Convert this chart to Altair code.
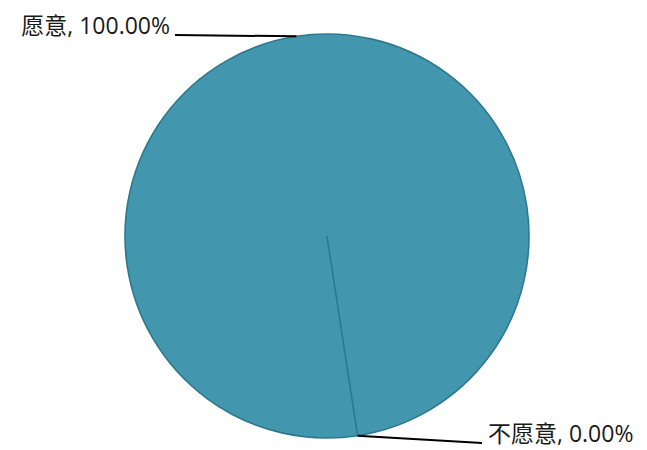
import math
import altair as alt
import pandas as pd

# Data
categories = ["愿意", "不愿意"]
values = [100, 0]

# Layout (chart coordinates)
W, H = 631, 442
CX, CY, R = 319, 228, 202
START = math.radians(171.3)          # first slice start angle (clockwise from top)
label_pos = [(162, 19), (480, 427)]   # label anchor for each category
label_align = ["right", "left"]
leader_end = [(167, 27), (474, 435)]  # where leader line meets label

total = sum(values)
pie = pd.DataFrame({
    "category": categories,
    "value": values,
    "order": list(range(len(values))),
})

# Leader lines and labels derived from slice mid-angles
rows_line, rows_text = [], []
acc = 0
for i, (c, v) in enumerate(zip(categories, values)):
    mid = START + 2 * math.pi * (acc + v / 2) / total
    acc += v
    px = CX + R * math.sin(mid)
    py = CY - R * math.cos(mid)
    ex, ey = leader_end[i]
    rows_line.append({"x": px, "y": py, "x2": ex, "y2": ey})
    lx, ly = label_pos[i]
    rows_text.append({"x": lx, "y": ly, "text": f"{c}, {v / total * 100:.2f}%", "align": label_align[i]})

lines = pd.DataFrame(rows_line)
texts = pd.DataFrame(rows_text)

xs = alt.Scale(domain=[0, W], range=[0, W], nice=False, zero=False)
ys = alt.Scale(domain=[0, H], range=[0, H], nice=False, zero=False)

arc = alt.Chart(pie).mark_arc(
    outerRadius=R, fill="#4297AE", stroke="#2E788D", strokeWidth=1.6
).encode(
    theta=alt.Theta("value:Q", stack=True,
                    scale=alt.Scale(range=[START, START + 2 * math.pi])),
    order=alt.Order("order:Q"),
    x=alt.value(CX),
    y=alt.value(CY),
)

rule = alt.Chart(lines).mark_rule(color="black", strokeWidth=2).encode(
    x=alt.X("x:Q", scale=xs, axis=None),
    y=alt.Y("y:Q", scale=ys, axis=None),
    x2="x2:Q",
    y2="y2:Q",
)

font = "'Open Sans', 'Noto Sans CJK SC', sans-serif"
text_r = alt.Chart(texts[texts["align"] == "right"]).mark_text(
    align="right", baseline="middle", fontSize=23, font=font, color="#1a1a1a"
).encode(
    x=alt.X("x:Q", scale=xs, axis=None),
    y=alt.Y("y:Q", scale=ys, axis=None),
    text="text:N",
)
text_l = alt.Chart(texts[texts["align"] == "left"]).mark_text(
    align="left", baseline="middle", fontSize=23, font=font, color="#1a1a1a"
).encode(
    x=alt.X("x:Q", scale=xs, axis=None),
    y=alt.Y("y:Q", scale=ys, axis=None),
    text="text:N",
)

chart = alt.layer(arc, rule, text_r, text_l).properties(
    width=W, height=H, padding=0, autosize=alt.AutoSizeParams(type="none")
).configure_view(stroke=None)

chart.save("out.html", embed_options={"renderer": "svg", "actions": False})
